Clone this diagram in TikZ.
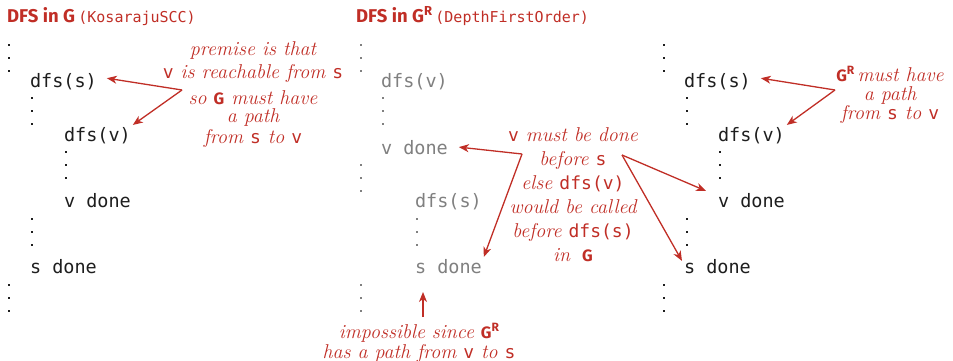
\documentclass[tikz,border=0pt]{standalone}
\usepackage{fontspec}
\setmonofont{DejaVu Sans Mono}
\newfontfamily\hsans{Fira Sans}
\usetikzlibrary{arrows.meta}
\definecolor{bred}{RGB}{192,46,38}
\definecolor{cgray}{RGB}{128,128,128}
\definecolor{cblack}{RGB}{30,30,30}
\newcommand\cv[1]{{\upshape\ttfamily\fontsize{18}{20}\selectfont #1}}
\newcommand\bG{{\upshape\hsans\bfseries\fontsize{16.5}{18}\selectfont G}}
\newcommand\bGR{{\upshape\hsans\bfseries\fontsize{16.5}{18}\selectfont G\raisebox{0.4em}{\fontsize{12}{12}\selectfont R}}}
\tikzset{
  code/.style={anchor=base west, inner sep=2pt, outer sep=0pt,
    font=\ttfamily\fontsize{18.5}{20}\selectfont, text=cblack},
  gcode/.style={code, text=cgray},
  mnote/.style={anchor=base, inner sep=1pt, align=center, text=bred,
    font=\itshape\fontsize{20}{#1}\selectfont},
  head/.style={anchor=base west, inner sep=0pt, text=bred},
  redarrow/.style={draw=bred, line width=1.3pt, -{Stealth[length=10pt,width=8pt,inset=3pt]}},
  pics/vd/.style={code={
    \foreach \k in {0,13,26} \fill[#1] (-1.25,\k-1.25) rectangle (1.25,\k+1.25);}},
}
\begin{document}
\begin{tikzpicture}[x=1pt,y=-1pt]
\useasboundingbox (0,0) rectangle (953,361);
% headings
\node[head] (h1) at (7,22.5) {{\hsans\bfseries\fontsize{18.5}{20}\selectfont DFS in G} {\ttfamily\fontsize{15}{18}\selectfont (KosarajuSCC)}};
\node[head] (h2) at (356,22.5) {{\hsans\bfseries\fontsize{18.5}{20}\selectfont DFS in G\raisebox{0.4em}{\fontsize{13}{13}\selectfont R}} {\ttfamily\fontsize{15}{18}\selectfont (DepthFirstOrder)}};

% left column
\pic at (9,45) {vd=cblack};
\node[code] (lds) at (28,88) {dfs(s)};
\pic at (32,98) {vd=cblack};
\node[code] (ldv) at (62,141) {dfs(v)};
\pic at (66,152) {vd=cblack};
\node[code] (lvd) at (62,207) {v done};
\pic at (32,219) {vd=cblack};
\node[code] (lsd) at (28,273) {s done};
\pic at (9,285) {vd=cblack};

% middle column
\pic at (361,45) {vd=cgray};
\node[gcode] (mdv) at (379,88) {dfs(v)};
\pic at (383,98) {vd=cgray};
\node[gcode] (mvd) at (379,154) {v done};
\pic at (361,165) {vd=cgray};
\node[gcode] (mds) at (413,207) {dfs(s)};
\pic at (417,219) {vd=cgray};
\node[gcode] (msd) at (413,273) {s done};
\pic at (361,285) {vd=cgray};

% right column
\pic at (664,45) {vd=cblack};
\node[code] (rds) at (682,88) {dfs(s)};
\pic at (687,98) {vd=cblack};
\node[code] (rdv) at (716,141) {dfs(v)};
\pic at (720,152) {vd=cblack};
\node[code] (rvd) at (716,207) {v done};
\pic at (687,219) {vd=cblack};
\node[code] (rsd) at (682,273) {s done};
\pic at (664,285) {vd=cblack};

% left note (base = last line)
\node[mnote=23] (n1a) at (253,78) {premise is that\\ \cv{v} is reachable from \cv{s}};
\node[mnote=19.5] (n1c) at (253,143) {so \bG\ must have\\[-1pt] a path\\[1pt] from \cv{s} to \cv{v}};
\coordinate (j1) at (182,90);
\draw[redarrow] (j1) -- ([xshift=8pt,yshift=4pt]lds.east);
\draw[redarrow] (j1) -- (ldv.north east);

% middle note
\node[mnote=24] (n2a) at (573,261) {\cv{v} must be done\\ before \cv{s}\\ else \cv{dfs(v)}\\ would be called\\ before \cv{dfs(s)}\\ in\hspace{0.6em}\bG};
\coordinate (j2) at (522,154);
\coordinate (j3) at (622,155);
\draw[redarrow] (j2) -- ([xshift=9pt]mvd.east);
\draw[redarrow] (j2) -- (msd.north east);
\draw[redarrow] (j3) -- ([xshift=-10pt]rvd.north west);
\draw[redarrow] (j3) -- ([yshift=-4pt]rsd.north west);

% right note
\node[mnote=19] (n3a) at (890,119) {\bGR\,must have\\ a path\\ from \cv{s} to \cv{v}};
\coordinate (j4) at (835,90);
\draw[redarrow] (j4) -- ([xshift=8pt,yshift=4pt]rds.east);
\draw[redarrow] (j4) -- (rdv.north east);

% bottom note
\node[mnote=20] (n4a) at (419,358) {impossible since \bGR\\ has a path from \cv{v} to \cv{s}};
\coordinate (bt) at (423,292);
\draw[redarrow] ([yshift=-25pt]bt) -- (bt);
\end{tikzpicture}
\end{document}
